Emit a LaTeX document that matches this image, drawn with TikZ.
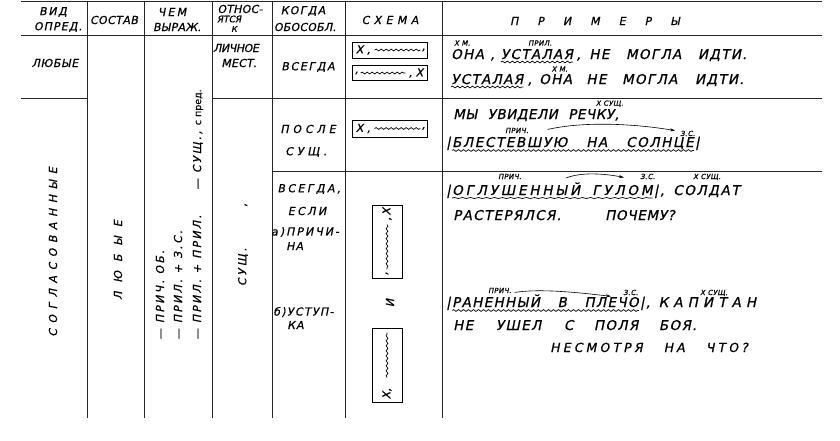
\documentclass[tikz,border=0pt]{standalone}
\usepackage{fontspec}
\newfontfamily\hf{DejaVu Sans}[FakeSlant=0.2, FakeBold=0.8]
\newfontfamily\hfu{DejaVu Sans}[FakeBold=0.5]
\usetikzlibrary{positioning,decorations.pathmorphing,arrows.meta}
\begin{document}
\begin{tikzpicture}[x=1pt,y=-1pt,
  grid/.style={line width=0.8pt, draw=black!85},
  lab/.style={font=\hf\fontsize{11}{12}\selectfont\addfontfeature{LetterSpace=#1}, inner sep=0pt, text=black},
  lab/.default=8,
  ex/.style={font=\hf\fontsize{13.5}{15}\selectfont\addfontfeature{LetterSpace=#1}, inner sep=0pt, anchor=base west, text=black},
  ex/.default=10,
  sm/.style={font=\hf\fontsize{7}{8}\selectfont\addfontfeature{LetterSpace=5}, inner sep=0pt, anchor=base west, text=black},
  wav/.style={decorate, decoration={snake, amplitude=0.9pt, segment length=5pt}, line width=0.7pt},
  arr/.style={-{Stealth[length=5pt,width=3pt]}, line width=0.6pt},
  sbox/.style={draw, line width=0.8pt, minimum width=75pt, minimum height=16pt, inner sep=0pt},
  vbox/.style={draw, line width=0.8pt, minimum width=30pt, minimum height=73pt, inner sep=0pt},
  rot/.style={rotate=90}
]
\useasboundingbox (0,0) rectangle (840,440);
\fill[white] (0,0) rectangle (840,440);

% ---- grid
\draw[grid] (21,1) -- (822,1);
\draw[grid] (21,35) -- (822,35);
\draw[grid] (21,98) -- (87,98);
\draw[grid] (212,98) -- (822,98);
\draw[grid] (272,171) -- (822,171);
\foreach \x in {87,144,212,272,345,442} \draw[grid] (\x,1) -- (\x,418);

% ---- header
\node[lab=15] (h1a) at (53,12) {ВИД};
\node[lab=10] (h1b) at (58,27) {ОПРЕД.};
\node[lab=4] (h2) at (114,20) {СОСТАВ};
\node[lab=20] (h3a) at (172,12) {ЧЕМ};
\node[lab=2] (h3b) at (177,27) {ВЫРАЖ.};
\node[lab=2] (h4a) at (240,9) {ОТНОС-};
\node[lab=15, font=\hf\fontsize{9}{9}\selectfont] (h4b) at (229,19) {ЯТСЯ};
\node[lab=0, font=\hf\fontsize{8}{9}\selectfont] (h4c) at (234,29) {К};
\node[lab=12] (h5a) at (303,11) {КОГДА};
\node[lab=2] (h5b) at (305,27) {ОБОСОБЛ.};
\node[lab=40] (h6) at (390,20) {СХЕМА};
\node[lab=0] (h7) at (595,21) {П\hspace{19pt}Р\hspace{19pt}И\hspace{19pt}М\hspace{19pt}Е\hspace{19pt}Р\hspace{19pt}Ы};

% ---- left columns
\node[lab=5] (l1) at (55,63) {ЛЮБЫЕ};
\node[lab=50, rot] (l2) at (53,252) {СОГЛАСОВАННЫЕ};
\node[lab=80, rot] (c2) at (118,260) {ЛЮБЫЕ};
\node[lab=20, rot, anchor=west] (v1) at (160,340) {—\ ПРИЧ. ОБ.};
\node[lab=20, rot, anchor=west] (v2) at (178,340) {—\ ПРИЛ. + З.С.};
\node[lab=20, rot, anchor=west] (v3) at (197,340) {—\ ПРИЛ. + ПРИЛ.};
\node[lab=20, rot, anchor=west] (v4) at (198,190) {—\ СУЩ., {\hfu\fontsize{9.5}{10}\selectfont с пред.}};
\node[lab=-4] (o1) at (236,48) {ЛИЧНОЕ};
\node[lab=2] (o2) at (239,63) {МЕСТ.};
\node[lab=25, rot] (o3) at (243,267) {СУЩ.};
\node[lab=0, rot] (o4) at (246,205) {,};

% ---- when column
\node[lab=15] (k1) at (308,67) {ВСЕГДА};
\node[lab=35] (k2) at (308,129) {ПОСЛЕ};
\node[lab=35] (k3) at (306,152) {СУЩ.};
\node[lab=22] (k4) at (309,189) {ВСЕГДА,};
\node[lab=22] (k5) at (307,211) {ЕСЛИ};
\node[lab=18, anchor=west] (k6) at (271,232) {а)ПРИЧИ-};
\node[lab=10, anchor=west] (k7) at (286,246) {НА};
\node[lab=12, anchor=west] (k8) at (273,312) {б)УСТУП-};
\node[lab=10, anchor=west] (k9) at (287,325) {КА};

% ---- schemes
\node[sbox] (s1) at (389.5,50) {};
\node[lab=0, anchor=west] (s1a) at ([xshift=4pt]s1.west) {Х ,};
\draw[wav] ([xshift=23pt]s1.west) -- ([xshift=-7pt]s1.east);
\node[lab=0, anchor=east] (s1b) at ([xshift=-2pt]s1.east) {,};
\node[sbox, minimum height=15pt] (s2) at (389.5,73) {};
\node[lab=0, anchor=west] (s2a) at ([xshift=3pt]s2.west) {,};
\draw[wav] ([xshift=9pt]s2.west) -- ([xshift=-22pt]s2.east);
\node[lab=0, anchor=east] (s2b) at ([xshift=-4pt]s2.east) {, Х};
\node[sbox, minimum height=17pt] (s3) at (389.5,128.5) {};
\node[lab=0, anchor=west] (s3a) at ([xshift=4pt]s3.west) {Х ,};
\draw[wav] ([xshift=23pt]s3.west) -- ([xshift=-7pt]s3.east);
\node[lab=0, anchor=east] (s3b) at ([xshift=-2pt]s3.east) {,};
\node[vbox] (s4) at (387,241.5) {};
\node[lab=0, rot, anchor=east] (s4a) at ([yshift=-3pt]s4.north) {,\,Х};
\draw[wav] ([yshift=-20pt]s4.north) -- ([yshift=9pt]s4.south);
\node[lab=0, rot, anchor=west] (s4b) at ([yshift=3pt]s4.south) {,};
\node[lab=0, rot] (s45) at (390,303) {И};
\node[vbox, minimum height=74pt] (s5) at (387,365) {};
\node[lab=0, rot, anchor=west] (s5a) at ([yshift=3pt]s5.south) {Х,};
\draw[wav] ([yshift=25pt]s5.south) -- ([yshift=-5pt]s5.north);

% ---- examples row 1
\node[ex] (a1) at (451,59) {ОНА};
\node[ex, base right=6pt of a1] (a2) {,};
\node[ex, base right=6pt of a2] (a3) {УСТАЛАЯ};
\node[ex, base right=3pt of a3] (a4) {,\hspace{3pt} НЕ\hspace{11pt} МОГЛА\hspace{11pt} ИДТИ.};
\node[sm, anchor=south west] (a1l) at ([xshift=3pt,yshift=3pt]a1.north west) {Х М.};
\node[sm, anchor=south] (a3l) at ([xshift=3pt,yshift=3pt]a3.north) {ПРИЛ.};
\draw[wav] ([yshift=-3pt]a3.base west) -- ([yshift=-3pt]a3.base east);

\node[ex] (b1) at (451,84) {УСТАЛАЯ};
\node[ex, base right=4pt of b1] (b2) {,};
\node[ex, base right=7pt of b2] (b3) {ОНА};
\node[ex, base right=14pt of b3] (b4) {НЕ\hspace{10pt} МОГЛА\hspace{12pt} ИДТИ.};
\node[sm, anchor=south] (b3l) at ([xshift=4pt,yshift=2pt]b3.north) {Х М.};
\draw[wav] ([yshift=-3pt]b1.base west) -- ([yshift=-3pt]b1.base east);

% ---- examples row 2
\node[ex=4] (c1) at (453,119) {МЫ};
\node[ex=4, base right=10pt of c1] (c2x) {УВИДЕЛИ};
\node[ex=4, base right=10pt of c2x] (c3) {РЕЧКУ,};
\node[sm, anchor=south] (c3l) at ([xshift=16pt,yshift=2pt]c3.north) {Х СУЩ.};
\node[sm] (p1) at (505,133) {ПРИЧ.};
\node[sm] (z1) at (680,136) {З.С.};
\coordinate (p1s) at ([xshift=19pt,yshift=1pt]p1.east);
\draw[arr] (p1s) .. controls +(40,-9) and +(-35,-6) .. ([xshift=-5pt]z1.north west);
\node[ex] (c4a) at (446,147) {|};
\node[ex=12, base right=1pt of c4a] (c4) {БЛЕСТЕВШУЮ\hspace{13pt} НА\hspace{13pt} СОЛНЦЕ};
\node[ex, base right=1pt of c4] (c4b) {|};
\draw[wav] ([yshift=-3.5pt]c4.base west) -- ([yshift=-3.5pt]c4.base east);

% ---- examples row 3
\node[sm] (p2) at (498,179) {ПРИЧ.};
\node[sm] (z2) at (640,179) {З.С.};
\node[sm] (x2) at (693,179) {Х СУЩ.};
\coordinate (p2s) at (566,178);
\draw[arr] (p2s) .. controls +(15,-6) and +(-20,-4) .. ([xshift=-16pt,yshift=-1pt]z2.west);
\node[ex] (d0) at (446,195) {|};
\node[ex=21, base right=1pt of d0] (d1) {ОГЛУШЕННЫЙ\hspace{5pt} ГУЛОМ};
\node[ex=12, base right=1pt of d1] (d2) {|,\hspace{3pt} СОЛДАТ};
\draw[wav, decoration={snake, amplitude=0.5pt, segment length=8pt}] ([yshift=-3pt]d1.base west) -- ([yshift=-3pt]d1.base east);
\node[ex] (d3) at (453,220) {РАСТЕРЯЛСЯ.};
\node[ex=5] (d4) at (605,220) {ПОЧЕМУ?};

\node[sm] (p3) at (488,293) {ПРИЧ.};
\node[sm] (z3) at (623,295) {З.С.};
\node[sm] (x3) at (700,295) {Х СУЩ.};
\coordinate (p3s) at ([xshift=3pt,yshift=-2pt]p3.east);
\draw[arr] (p3s) .. controls +(25,-4) and +(-35,-4) .. ([xshift=-12pt,yshift=-1pt]z3.south west);
\node[ex] (e0) at (446,307) {|};
\node[ex, base right=1pt of e0] (e1) {РАНЕННЫЙ\hspace{12pt} В\hspace{12pt} ПЛЕЧО};
\node[ex, base right=1pt of e1] (e2) {|,};
\node[ex=38, base right=8pt of e2] (e3) {КАПИТАН};
\draw[wav] ([yshift=-3.5pt]e1.base west) -- ([yshift=-3.5pt]e1.base east);
\node[ex] (f1) at (453,330) {НЕ\hspace{17pt} УШЕЛ\hspace{17pt} С\hspace{15pt} ПОЛЯ\hspace{15pt} БОЯ.};
\node[ex, font=\hf\fontsize{12.5}{13}\selectfont\addfontfeature{LetterSpace=25}] (f2) at (550,352) {НЕСМОТРЯ\hspace{14pt} НА\hspace{14pt} ЧТО?};
\end{tikzpicture}
\end{document}
